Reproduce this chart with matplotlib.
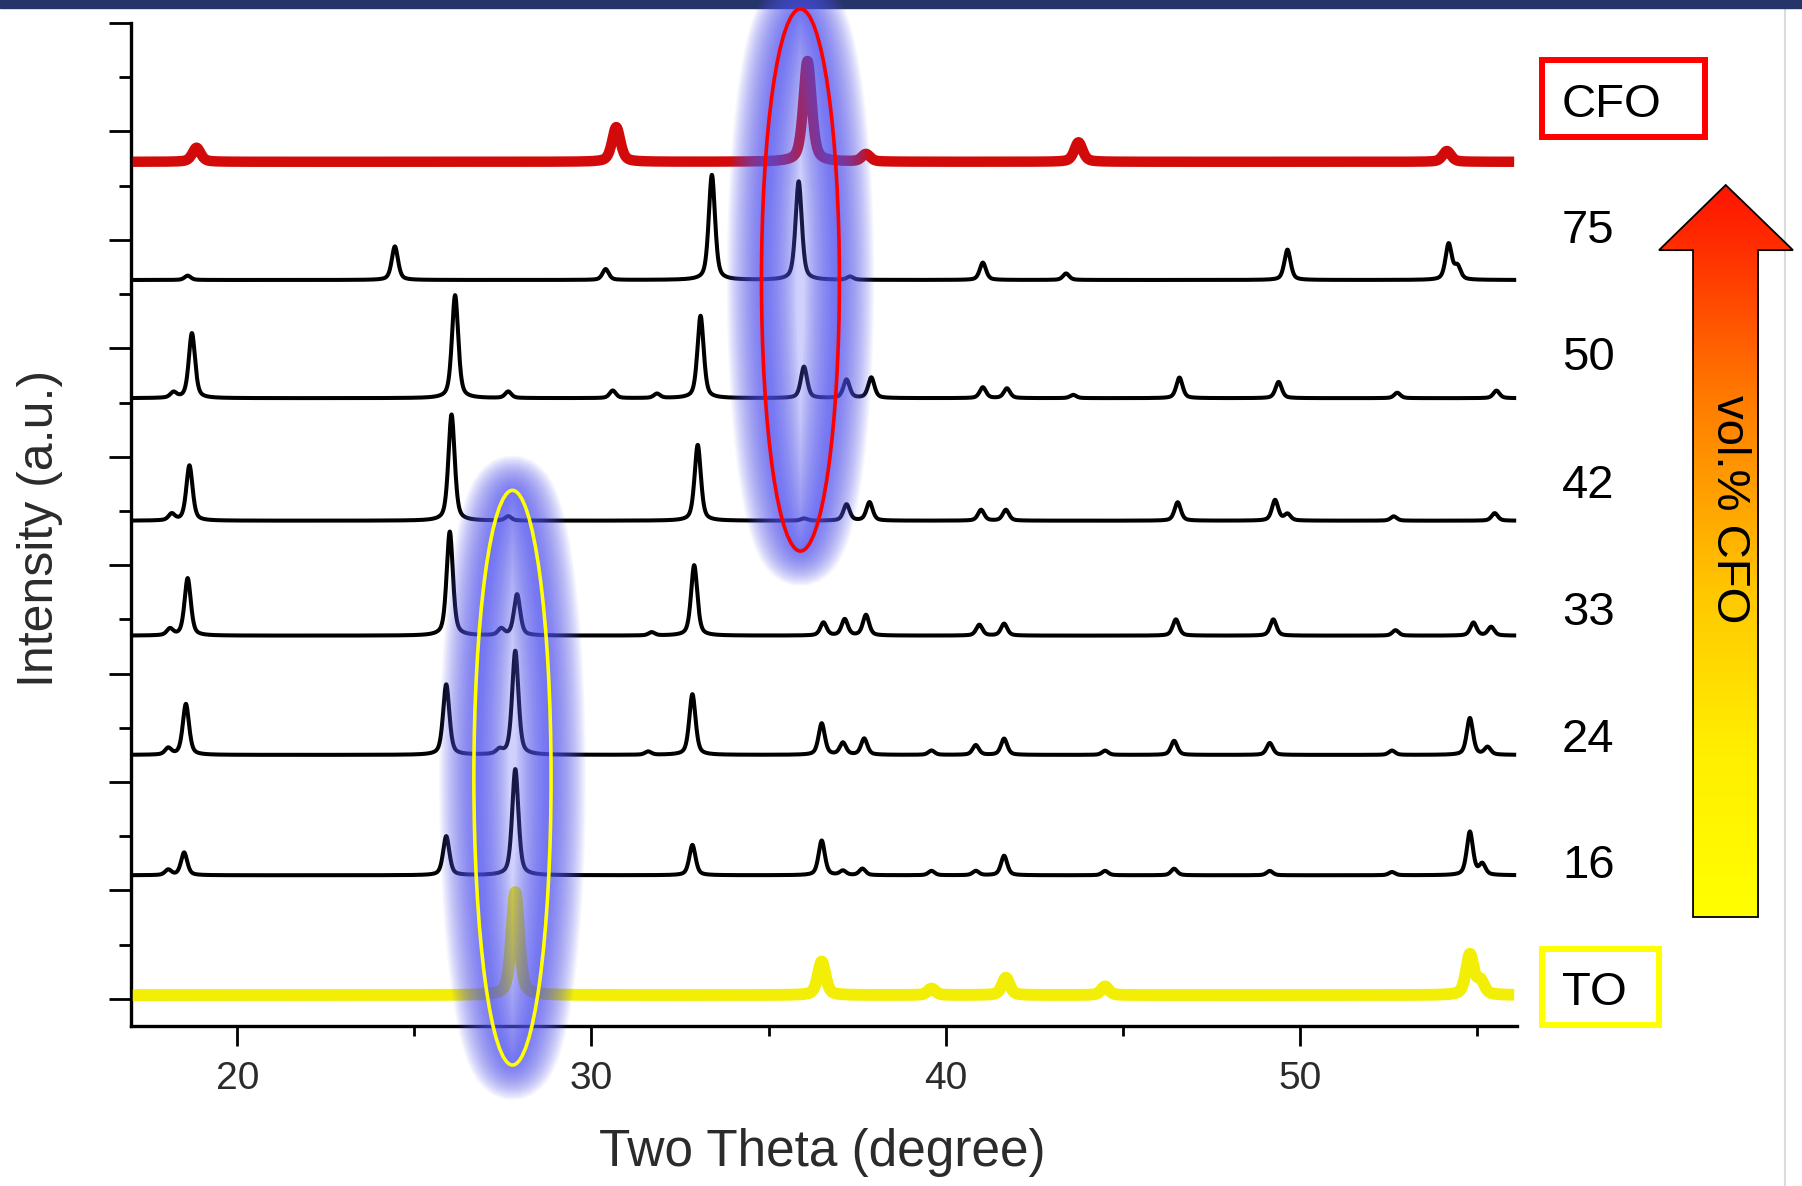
import numpy as np
import matplotlib
matplotlib.use("Agg")
import matplotlib.pyplot as plt
from matplotlib.patches import Ellipse, Rectangle, Polygon
from matplotlib.colors import LinearSegmentedColormap
from matplotlib.lines import Line2D

plt.rcParams['font.family'] = ['Liberation Sans', 'DejaVu Sans']

# scan range (two theta, degree)
theta_start, theta_end = 17.05, 56.05

# peak positions (deg) and heights (in major-tick units)
cfo_pos = [18.85, 30.7, 36.1, 37.75, 43.75, 54.15]
cfo_int = [0.13, 0.32, 0.93, 0.07, 0.18, 0.10]

s75_pos = [18.6, 24.45, 30.4, 33.4, 35.85, 37.3, 41.05, 43.4, 49.65, 54.2, 54.45]
s75_int = [0.04, 0.31, 0.10, 0.97, 0.91, 0.03, 0.16, 0.06, 0.28, 0.33, 0.12]

s50_pos = [18.2, 18.72, 26.15, 27.65, 30.6, 31.85, 33.08, 36.0, 37.2, 37.9,
           41.05, 41.73, 43.6, 46.6, 49.4, 52.75, 55.55]
s50_int = [0.05, 0.60, 0.95, 0.06, 0.07, 0.04, 0.76, 0.29, 0.17, 0.19,
           0.10, 0.09, 0.03, 0.19, 0.15, 0.05, 0.07]

s42_pos = [18.15, 18.65, 26.05, 27.65, 33.0, 36.0, 37.2, 37.85, 41.0, 41.7,
           46.55, 49.3, 49.65, 52.65, 55.5]
s42_int = [0.06, 0.51, 0.98, 0.04, 0.70, 0.02, 0.15, 0.17, 0.10, 0.10,
           0.17, 0.19, 0.06, 0.04, 0.07]

s33_pos = [18.1, 18.6, 26.0, 27.45, 27.9, 31.7, 32.9, 36.55, 37.15, 37.75,
           40.95, 41.65, 46.5, 49.25, 52.7, 54.9, 55.4]
s33_int = [0.06, 0.53, 0.96, 0.06, 0.38, 0.03, 0.65, 0.12, 0.15, 0.19,
           0.10, 0.11, 0.15, 0.15, 0.05, 0.12, 0.08]

s24_pos = [18.05, 18.55, 25.9, 27.4, 27.85, 31.6, 32.85, 36.5, 37.1, 37.7,
           39.6, 40.85, 41.65, 44.5, 46.45, 49.15, 52.6, 54.8, 55.3]
s24_int = [0.06, 0.47, 0.65, 0.04, 0.96, 0.03, 0.56, 0.29, 0.11, 0.15,
           0.04, 0.09, 0.15, 0.04, 0.13, 0.11, 0.04, 0.34, 0.07]

s16_pos = [18.05, 18.5, 25.9, 27.85, 32.85, 36.5, 37.1, 37.65, 39.6, 40.85,
           41.65, 44.5, 46.45, 49.15, 52.6, 54.8, 55.15]
s16_int = [0.05, 0.21, 0.36, 0.98, 0.28, 0.32, 0.04, 0.06, 0.04, 0.04,
           0.18, 0.04, 0.06, 0.04, 0.03, 0.40, 0.10]

to_pos = [27.85, 36.5, 39.6, 41.7, 44.5, 54.8, 55.1]
to_int = [0.95, 0.31, 0.06, 0.16, 0.08, 0.37, 0.12]

labels = ['CFO', '75', '50', '42', '33', '24', '16', 'TO']
offsets = [7.72, 6.63, 5.54, 4.41, 3.35, 2.25, 1.14, 0.035]
peak_pos = [cfo_pos, s75_pos, s50_pos, s42_pos, s33_pos, s24_pos, s16_pos, to_pos]
peak_int = [cfo_int, s75_int, s50_int, s42_int, s33_int, s24_int, s16_int, to_int]


def profile(x, pos, amp, fwhm):
    y = np.zeros_like(x)
    for p, a in zip(pos, amp):
        d = (x - p) / (fwhm / 2)
        y += a * (0.5 / (1 + d ** 2) + 0.5 * np.exp(-np.log(2) * d ** 2))
    return y


W, H = 1802, 1186
fig = plt.figure(figsize=(W / 100, H / 100), dpi=100)

# frame decorations (slide bar on top, thin grey edge on the right)
fig.patches.append(Rectangle((0, 1 - 8 / H), 1, 8 / H, transform=fig.transFigure,
                             color='#263569', zorder=-2))
fig.lines.append(Line2D([1785 / W] * 2, [0, 1 - 8 / H], transform=fig.transFigure,
                        color='#dcdcdc', lw=1.5, zorder=-2))

ax = fig.add_axes([131 / W, 160 / H, 1386 / W, 1003 / H])
x = np.linspace(theta_start, theta_end, 4000)

for lab, off, pos, amp in zip(labels, offsets, peak_pos, peak_int):
    if lab == 'CFO':
        ax.plot(x, off + profile(x, pos, amp, 0.28), color='#d30a0a', lw=7.5,
                solid_capstyle='butt', zorder=3)
    elif lab == 'TO':
        ax.plot(x, off + profile(x, pos, amp, 0.26), color='#f3ee05', lw=8.5,
                solid_capstyle='butt', zorder=3)
    else:
        ax.plot(x, off + profile(x, pos, amp, 0.21), color='black', lw=2.9, zorder=3)

ax.set_xlim(17.0, 56.13)
ax.set_ylim(-0.25, 9.0)
ax.set_xticks([20, 30, 40, 50])
ax.set_xticks([25, 35, 45, 55], minor=True)
ax.set_yticks(np.arange(0, 10))
ax.set_yticks(np.arange(0.5, 9, 1), minor=True)
ax.tick_params(axis='y', which='major', length=16, width=2, labelleft=False)
ax.tick_params(axis='y', which='minor', length=8.5, width=2)
ax.tick_params(axis='x', which='major', length=14.5, width=2, labelsize=28,
               pad=11, labelcolor='#2b2b2b')
ax.tick_params(axis='x', which='minor', length=7.5, width=2)
for side in ['top', 'right']:
    ax.spines[side].set_visible(False)
for side in ['left', 'bottom']:
    ax.spines[side].set_linewidth(2.4)

ax.set_xlabel('Two Theta (degree)', fontsize=37, color='#2b2b2b')
ax.xaxis.set_label_coords(0.499, -0.1266)
ax.xaxis.label.set_verticalalignment('center')
ax.set_ylabel('Intensity (a.u.)', fontsize=36, color='#2b2b2b')
ax.yaxis.set_label_coords(-0.0657, 0.4965)
ax.yaxis.label.set_verticalalignment('center')

# highlighted regions: soft blue glow + coloured ellipse
highlights = [((35.9, 6.63), 2.2, 5.0, '#ff0000'),
              ((27.77, 2.04), 2.18, 5.3, '#ffff00')]
for center, ew, eh, ec in highlights:
    ax.add_patch(Ellipse(center, ew, eh, fc='#5557f2', ec='none', alpha=0.28,
                         clip_on=False, zorder=5))
    for lw in range(50, 1, -2):
        ax.add_patch(Ellipse(center, ew, eh, fc='none', ec='#5557f2', lw=lw,
                             alpha=0.05, clip_on=False, zorder=5))
    ax.add_patch(Ellipse(center, ew, eh, fc='none', ec=ec, lw=2.6,
                         clip_on=False, zorder=6))

# sample labels on the right
label_base = [117, 243, 370, 498, 625, 752, 878, 1005]
for lab, yb in zip(labels, label_base):
    fig.text(1562 / W, 1 - yb / H, lab, fontsize=34, ha='left', va='baseline',
             color='black')
fig.patches.append(Rectangle((1542 / W, 1 - 137 / H), 163 / W, 77 / H,
                             transform=fig.transFigure, fill=False,
                             ec='#ff0000', lw=4.3))
fig.patches.append(Rectangle((1542 / W, 1 - 1025 / H), 117 / W, 76 / H,
                             transform=fig.transFigure, fill=False,
                             ec='#ffff00', lw=4.3))

# gradient arrow
ax_arr = fig.add_axes([1659 / W, 1 - 917 / H, 134 / W, 732 / H])
ax_arr.set_xlim(0, 1)
ax_arr.set_ylim(0, 1)
ax_arr.axis('off')
cmap = LinearSegmentedColormap.from_list(
    'arr', [(0.0, '#ffff00'), (0.23, '#ffee00'), (0.44, '#ffc800'),
            (0.71, '#ff7a00'), (0.91, '#ff3000'), (1.0, '#ff1400')])
grad = np.linspace(0, 1, 256).reshape(-1, 1)
im = ax_arr.imshow(grad, extent=[0, 1, 0, 1], origin='lower', cmap=cmap,
                   aspect='auto', zorder=1)
arrow_xy = [(0.254, 0), (0.739, 0), (0.739, 0.911), (1, 0.911), (0.498, 1),
            (0, 0.911), (0.254, 0.911)]
clip = Polygon(arrow_xy, closed=True, fc='none', ec='none')
ax_arr.add_patch(clip)
im.set_clip_path(clip)
ax_arr.add_patch(Polygon(arrow_xy, closed=True, fc='none', ec='black', lw=1.3,
                         clip_on=False, zorder=2))
ax_arr.text(0.522, 0.557, 'vol.% CFO', rotation=270, fontsize=34,
            ha='center', va='center', color='black', zorder=3)

fig.savefig('out.png', dpi=100)
